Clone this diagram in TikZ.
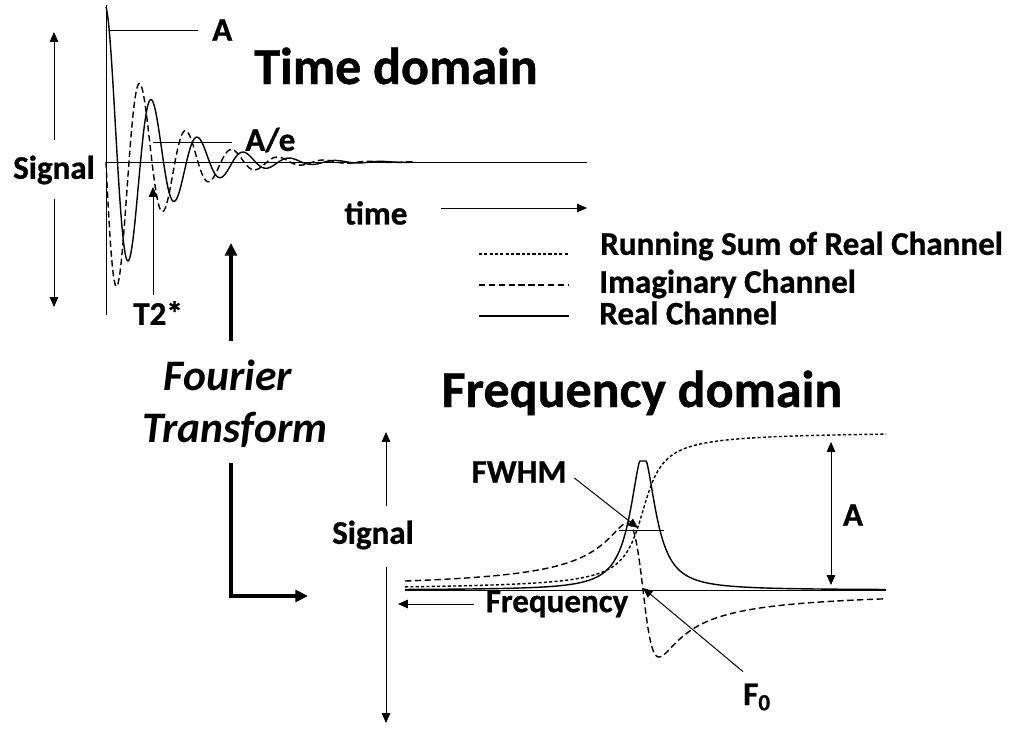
\documentclass[tikz,border=0pt]{standalone}
\usepackage{fontspec}
\setmainfont{Carlito}[BoldFeatures={FakeBold=0.8}]
\usetikzlibrary{arrows.meta}

\begin{document}
\begin{tikzpicture}[x=0.025cm,y=-0.025cm,
    >={Triangle[length=7pt,width=6pt]},
    lbl/.style={font=\fontsize{23.5}{26}\selectfont\bfseries, inner sep=0pt},
    ttl/.style={font=\fontsize{37}{40}\selectfont\bfseries, inner sep=0pt, anchor=base},
    ftlbl/.style={font=\fontsize{31}{37}\selectfont\bfseries\itshape, inner sep=0pt, anchor=base},
    thinln/.style={line width=0.7pt},
    realch/.style={line width=1pt},
    imagch/.style={line width=1pt, dash pattern=on 4.5pt off 2.5pt},
    runsum/.style={line width=1pt, dash pattern=on 2.2pt off 1.6pt},
    fatarr/.style={line width=2.2pt, -{Triangle[length=9pt,width=8.5pt]}}]
    \useasboundingbox (0,0) rectangle (1015,730);

    % time domain: axes
    \coordinate (tAxTop) at (106,5);
    \coordinate (tAxBot) at (106,315);
    \coordinate (tBase0) at (106,162);
    \coordinate (tBase1) at (587,162);
    \draw[thinln] (tAxTop) -- (tAxBot);
    \draw[thinln] (tBase0) -- (tBase1);

    % time domain: FID, real and imaginary channel
    \draw[realch] plot[domain=0:307, samples=500, smooth]
        ({106+\x},{162-155*cos(7.826*\x)*exp(-\x/50)});
    \draw[imagch] plot[domain=0:307, samples=500, smooth]
        ({106+\x},{162+155*sin(7.826*\x)*exp(-\x/50)});

    % time domain: labels
    \node[ttl] (titleTime) at (396,84) {Time domain};
    \node[lbl] (sigT) at (54,170) {Signal};
    \coordinate (sigTtop) at (54,32);
    \coordinate (sigTbot) at (54,307);
    \draw[thinln,->,shorten <=11pt] (sigT.north) -- (sigTtop);
    \draw[thinln,->,shorten <=10pt] (sigT.south) -- (sigTbot);

    \node[lbl,anchor=west] (lblA) at (212,30) {A};
    \coordinate (aPeak) at (110,30);
    \draw[thinln,shorten >=10pt] (aPeak) -- (lblA.west);

    \node[lbl,anchor=west] (lblAe) at (245,140) {A/e};
    \coordinate (aePt) at (153,142);
    \draw[thinln,shorten >=9pt] (aePt) -- (lblAe.west |- aePt);

    \node[lbl] (lblT2) at (158,313) {T2*};
    \coordinate (t2Tip) at (153,187);
    \draw[thinln,->,shorten <=4pt] (lblT2.north -| t2Tip) -- (t2Tip);

    \node[lbl] (lblTime) at (376,213) {time};
    \coordinate (timeTip) at (587,208);
    \draw[thinln,->,shorten <=24pt] (lblTime.east |- timeTip) -- (timeTip);

    % legend
    \coordinate (lgRunA) at (479,254);  \coordinate (lgRunB) at (569,254);
    \coordinate (lgImA) at (479,285);   \coordinate (lgImB) at (569,285);
    \coordinate (lgReA) at (479,316);   \coordinate (lgReB) at (569,316);
    \draw[runsum] (lgRunA) -- (lgRunB);
    \draw[imagch] (lgImA) -- (lgImB);
    \draw[realch] (lgReA) -- (lgReB);
    \node[lbl,anchor=west] (legRun) at (600,246) {Running Sum of Real Channel};
    \node[lbl,anchor=west] (legImag) at (599,284) {Imaginary Channel};
    \node[lbl,anchor=west] (legReal) at (599,313) {Real Channel};

    % Fourier transform
    \node[ftlbl, text height=20pt] (fourierA) at (228,390) {Fourier};
    \node[ftlbl, text depth=0pt] (fourierB) at (235,442) {Transform};
    \coordinate (ftTop) at (231,243);
    \coordinate (ftCorner) at (231,596);
    \coordinate (ftEnd) at (308,596);
    \draw[fatarr,shorten <=15pt] (fourierA.north -| ftTop) -- (ftTop);
    \draw[fatarr,shorten <=15pt] (fourierB.south -| ftCorner) -- (ftCorner) -- (ftEnd);

    % frequency domain: axes
    \coordinate (fAxTop) at (386,432);
    \coordinate (fAxBot) at (386,723);
    \coordinate (fBase0) at (405,590);
    \coordinate (fBase1) at (886,590);
    \node[lbl] (sigF) at (373,535) {Signal};
    \draw[thinln,->,shorten <=10pt] (sigF.north -| fAxTop) -- (fAxTop);
    \draw[thinln,->,shorten <=12pt] (sigF.south -| fAxBot) -- (fAxBot);
    \draw[thinln] (fBase0) -- (fBase1);

    % frequency domain: spectra
    \draw[realch] plot[domain=405:886, samples=480]
        (\x,{590-min(129,136/(1+((\x-643)/15)*((\x-643)/15)))});
    \draw[imagch] plot[domain=405:886, samples=480]
        (\x,{590+134*((\x-643)/16)/(1+((\x-643)/16)*((\x-643)/16))});
    \draw[runsum] plot[domain=405:886, samples=480]
        (\x,{590-159*(0.5+atan((\x-643)/15)/180)});

    % frequency domain: labels
    \node[ttl] (titleFreq) at (642,407) {Frequency domain};
    \node[lbl] (lblFreq) at (557,604) {Frequency};
    \coordinate (freqTip) at (398,602);
    \draw[thinln,->,shorten <=8pt] (lblFreq.west) -- (lblFreq.west -| freqTip);

    \node[lbl] (lblFWHM) at (519,472) {FWHM};
    \coordinate (fwhmTip) at (638,528);
    \coordinate (fwhmA) at (619,530);
    \coordinate (fwhmB) at (664,530);
    \draw[thinln] (fwhmA) -- (fwhmB);
    \draw[thinln,->,shorten <=7pt] (lblFWHM.east) -- (fwhmTip);

    \node[lbl] (lblF0) at (757,697) {F\textsubscript{0}};
    \coordinate (f0Tip) at (643,588);
    \draw[thinln,->,shorten <=13pt] (lblF0.north) -- (f0Tip);

    \node[lbl] (lblAF) at (853,515) {A};
    \coordinate (aFTop) at (831,442);
    \coordinate (aFBot) at (831,585);
    \draw[thinln,<->] (aFTop) -- (aFBot);
\end{tikzpicture}
\end{document}
